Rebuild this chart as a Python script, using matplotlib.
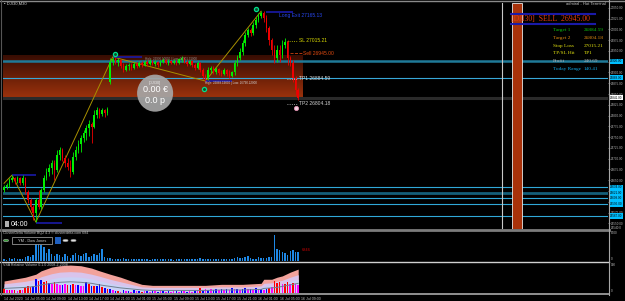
import matplotlib
matplotlib.use("Agg")
import matplotlib.pyplot as plt
import matplotlib.transforms as mtrans
from matplotlib.lines import Line2D
from matplotlib.patches import Ellipse, Rectangle, Circle
import numpy as np

# ---------------- data ----------------
opens = [26627,26634,26639,26650,26655,26648,26655,26643,26655,26623,
         26604,26588,26574,26604,26588,26627,26655,26669,26678,26690,
         26674,26708,26720,26701,26690,26681,26669,26704,26720,26734,
         26748,26759,26771,26780,26773,26801,26813,26804,26813,26806,
         26878,26924,26931,26924,26929,26915,26906,26915,26917,26910,
         26920,26915,26922,26917,26924,26920,26926,26920,26924,26917,
         26924,26929,26922,26926,26922,26926,26922,26929,26933,26924,
         26920,26926,26917,26910,26922,26906,26892,26887,26906,26910,
         26901,26908,26899,26896,26906,26896,26892,26901,26922,26933,
         26947,26968,26987,26998,26991,27010,27022,27031,27038,27026,
         27003,26975,26952,26933,26952,26940,26964,26971,26933,26922,
         26887,26859]
closes = [26634,26639,26650,26655,26648,26655,26643,26655,26623,26604,
          26588,26574,26604,26588,26627,26655,26669,26678,26690,26674,
          26708,26720,26701,26690,26681,26669,26704,26720,26734,26748,
          26759,26771,26780,26773,26801,26813,26804,26813,26806,26815,
          26924,26931,26924,26929,26915,26906,26915,26917,26910,26920,
          26915,26922,26917,26924,26920,26926,26920,26924,26917,26924,
          26929,26922,26926,26922,26926,26922,26931,26933,26924,26920,
          26926,26917,26910,26922,26906,26892,26885,26906,26910,26901,
          26908,26899,26896,26906,26896,26892,26901,26922,26933,26947,
          26968,26987,26998,26991,27010,27022,27031,27038,27026,27003,
          26975,26952,26933,26952,26940,26964,26971,26933,26922,26887,
          26859,26841]
highs = [26639,26643,26655,26662,26657,26660,26657,26662,26657,26627,
         26609,26592,26609,26627,26632,26662,26678,26688,26697,26697,
         26720,26727,26725,26708,26701,26697,26715,26729,26743,26755,
         26766,26778,26790,26785,26813,26820,26817,26817,26815,26820,
         26933,26936,26936,26933,26931,26922,26920,26922,26922,26924,
         26924,26926,26926,26929,26929,26931,26929,26929,26926,26929,
         26933,26931,26931,26929,26931,26929,26933,26938,26936,26929,
         26929,26929,26922,26926,26924,26910,26896,26913,26915,26915,
         26913,26910,26906,26910,26908,26906,26903,26929,26940,26957,
         26975,26994,27003,27003,27017,27029,27038,27042,27042,27033,
         27008,26980,26964,26964,26964,26975,26980,26975,26938,26929,
         26892,26864]
lows = [26623,26630,26634,26646,26641,26643,26639,26639,26618,26597,
        26581,26558,26553,26583,26583,26623,26650,26660,26664,26650,
        26669,26697,26694,26681,26674,26657,26664,26697,26713,26715,
        26739,26743,26752,26736,26771,26794,26794,26799,26797,26801,
        26873,26917,26920,26915,26910,26901,26903,26906,26906,26908,
        26910,26913,26913,26915,26915,26917,26917,26915,26913,26915,
        26922,26920,26917,26920,26920,26917,26920,26924,26922,26915,
        26917,26913,26906,26908,26901,26885,26880,26882,26899,26896,
        26896,26894,26892,26894,26892,26887,26889,26894,26915,26929,
        26940,26961,26982,26984,26987,27003,27017,27026,27017,26994,
        26964,26940,26922,26924,26924,26933,26957,26917,26915,26878,
        26848,26836]

volume = [580,300,870,580,870,450,580,580,1160,1450,
          1160,1740,5200,6400,4640,4060,2320,3480,2030,1450,
          2030,1740,1160,2030,1450,870,1740,2320,1740,1450,
          2030,2320,1160,1450,2030,1740,2320,3480,1160,870,
          870,580,450,700,580,870,520,640,450,600,
          520,700,450,580,640,400,520,700,450,600,
          520,450,640,580,400,600,520,450,700,580,
          520,640,450,600,870,700,580,640,520,580,
          700,520,600,640,580,700,640,780,1160,720,
          870,1000,1450,870,580,450,1160,720,870,870,
          1160,1160,7250,3480,3190,2610,2320,1740,2900,3190,
          2610,2610]

vsa_vol = [40,30,35,30,35,25,30,30,60,70,
           65,70,140,120,130,110,120,100,90,110,
           90,85,80,90,85,80,95,80,85,75,
           70,110,90,70,75,70,90,60,50,45,
           40,30,20,25,15,30,20,25,15,30,
           20,20,15,25,20,15,30,20,15,25,
           20,15,20,15,25,20,15,20,25,15,
           20,15,25,20,50,30,40,35,40,30,
           45,35,40,30,45,35,50,40,45,35,
           40,55,45,40,35,50,45,40,30,40,
           50,60,125,100,110,90,95,110,95,100,
           90,80]
vsa_class = ("rmrmrmrmrr" "rbbrbrrbmr" "mmbmrbrmbm" "mbrbrbbrbr" "bmbrmbmbmb"
             "mbrmbmbmbm" "bmbmmbmbmb" "mmbmrbmbmb" "bmbmbmbmbm" "bbmbmbmbmb"
             "rmrrrmrrmr" "mm")

band_idx = [0, 8, 12, 14, 18, 21, 25, 29, 33, 36, 40, 44, 48, 52, 56, 64, 76, 82, 90, 97, 98, 101, 103, 105, 108, 111]
band_pink = [123, 160, 190, 223, 260, 273, 280, 273, 250, 223, 190, 160, 123, 90, 80, 80, 80, 90, 90, 100, 140, 140, 160, 173, 210, 240]
band_lav = [95, 120, 140, 165, 195, 210, 215, 210, 190, 170, 140, 115, 90, 65, 60, 60, 60, 65, 65, 75, 100, 105, 120, 130, 160, 185]
band_blue = [70, 85, 100, 120, 145, 160, 165, 160, 145, 125, 100, 80, 65, 45, 40, 40, 40, 45, 45, 55, 70, 75, 85, 95, 120, 140]
band_gray = [50, 60, 70, 85, 100, 110, 115, 110, 100, 85, 70, 55, 45, 35, 30, 30, 30, 35, 35, 40, 50, 55, 60, 70, 85, 100]

zz_idx = [0, 3, 12, 41, 76, 97]
zz_price = [26643, 26662, 26553, 26936, 26880, 27042]

seg_start = [3, 12, 41, 76, 99]
seg_end = [12, 22, 52, 86, 109]
seg_price = [26662, 26550, 26936, 26880, 27041]

zone_lo, zone_hi = 26838, 26938

time_labels = ["14 Jul 2020", "14 Jul 05:00", "14 Jul 09:00", "14 Jul 13:00", "14 Jul 17:00",
               "14 Jul 21:00", "15 Jul 01:00", "15 Jul 05:00", "15 Jul 09:00", "15 Jul 13:00",
               "15 Jul 17:00", "15 Jul 21:00", "16 Jul 01:00", "16 Jul 05:00", "16 Jul 09:00"]

# horizontal levels: price, color, width, tag colour
levels = [(26926, '#1F7A98', 1.8, '#00BFFF'),
          (26888, '#38A8D8', 0.8, '#00BFFF'),
          (26841, '#2A2A2A', 2.2, '#FFFFFF'),
          (26634, '#30A8D8', 0.8, '#00BFFF'),
          (26621, '#145E78', 2.0, '#00BFFF'),
          (26609, '#30A8D8', 0.8, '#00BFFF'),
          (26595, '#30A8D8', 0.8, '#00BFFF'),
          (26567, '#30A8D8', 0.8, '#00BFFF')]

# ---------------- figure ----------------
W, H = 625, 301
fig = plt.figure(figsize=(W / 100, H / 100), dpi=100, facecolor='black')


def fx(px):
    return px / W


def fy(py):
    return 1 - py / H


XL = (-0.4, 227.9)
ax = fig.add_axes([fx(3), fy(229), fx(608) - fx(3), fy(3) - fy(229)], facecolor='black')
axv = fig.add_axes([fx(3), fy(261), fx(608) - fx(3), fy(231) - fy(261)], facecolor='black')
axs = fig.add_axes([fx(3), fy(293.5), fx(608) - fx(3), fy(263) - fy(293.5)], facecolor='black')
for a in (ax, axv, axs):
    a.set_xlim(*XL)
    for s in a.spines.values():
        s.set_visible(False)
    a.set_xticks([])
    a.set_yticks([])

idx = np.arange(len(closes))
O = np.array(opens); C = np.array(closes); Hh = np.array(highs); L = np.array(lows)

# ---- main chart ----
ax.set_ylim(26537, 27061)
ax.yaxis.tick_right()
level_prices = np.array([lv[0] for lv in levels])
yt_all = np.arange(26550, 27061, 25)
ax.set_yticks(yt_all)
ax.set_yticklabels([("" if np.min(np.abs(level_prices - v)) < 7 else f"{v:.2f}") for v in yt_all])
ax.tick_params(axis='y', colors='#B8B8B8', labelsize=2.2, length=1.5, width=0.4, pad=0.8)
for lab in ax.get_yticklabels():
    lab.set_family('Liberation Sans')

# orange zone gradient
g = np.linspace(0, 1, 80)[:, None]
top_c = np.array([0.22, 0.05, 0.01]); bot_c = np.array([0.62, 0.20, 0.05])
img = (top_c[None, :] + (bot_c - top_c)[None, :] * g)[:, None, :]
ax.imshow(img, extent=[XL[0], 112.5, zone_lo, zone_hi], aspect='auto', origin='upper', zorder=1,
          interpolation='bilinear')
ax.add_patch(Rectangle((XL[0], zone_lo), 112.5 - XL[0], 6, facecolor='#B84A22', edgecolor='none', zorder=1.2))

tr_tag = mtrans.blended_transform_factory(ax.transAxes, ax.transData)
for p, c, w, tag in levels:
    ax.axhline(p, color=c, lw=w, zorder=2)
    ax.text(1.0035, p, f"{p:.2f}", transform=tr_tag, fontsize=2.2, color='black', va='center', ha='left',
            family='Liberation Sans',
            bbox=dict(boxstyle='square,pad=0.2', fc=tag, ec='none'), zorder=10, clip_on=False)

# zigzag and swing segments
ax.plot(zz_idx, zz_price, color='#A89000', lw=0.7, zorder=3)
ax.hlines(seg_price, seg_start, seg_end, colors='#1A1AA8', lw=1.2, zorder=3)

# candles
col = np.where(C >= O, '#00F000', '#F00000')
ax.vlines(idx, L, Hh, colors=col, lw=0.6, zorder=4)
body = np.maximum(np.abs(C - O), 1.5)
ax.bar(idx, body, bottom=np.minimum(O, C), width=0.55, color=col, linewidth=0, zorder=5)

# vertical markers on the right
ax.axvline(187.9, color='#C8C8C8', lw=0.8, zorder=2)
ax.axvspan(191.8, 195.4, facecolor='#A8320A', edgecolor='#E8E8E8', lw=0.6, zorder=2)

# zigzag point markers
ax.scatter([42, 95, 75.5], [26943, 27046, 26861], s=9, facecolor='#0A5030', edgecolor='#00E08A',
           lw=0.9, zorder=7)
ax.scatter([110], [26817], s=9, facecolor='#F0D0E0', edgecolor='#E090B0', lw=0.6, zorder=7)

# level labels near last bar
ax.hlines([26973, 26885, 26827], 106.8, 110.9, colors=['#D0D000', '#D0D0D0', '#C0C0C0'],
          lw=0.6, linestyles=':', zorder=6)
ax.hlines([26945], 107.9, 112.5, colors=['#D04010'], lw=0.6, linestyles='--', zorder=6)
ax.text(103.8, 27033, "Long Exit 27165.13", color='#2848F0', fontsize=3.6, va='center', family='Liberation Sans', zorder=8)
ax.text(111.3, 26973, "SL 27015.21", color='#D8D800', fontsize=3.6, va='center', family='Liberation Sans', zorder=8)
ax.text(112.8, 26945, "Sell 26945.00", color='#E04A10', fontsize=3.6, va='center', family='Liberation Sans', zorder=8)
ax.text(111.3, 26885, "TP1 26884.59", color='#D8D8D8', fontsize=3.6, va='center', family='Liberation Sans', zorder=8)
ax.text(111.3, 26827, "TP2 26804.18", color='#D0D0D0', fontsize=3.6, va='center', family='Liberation Sans', zorder=8)
ax.text(76, 26875, "High: 26889.19000 | Low: 26790.22000", color='#D0D0D0', fontsize=2.2, va='center',
        family='Liberation Sans', zorder=8)
ax.text(53, 26931, "High: 26936.10000 | Low: 26901.31000", color='#909090', fontsize=2.2, va='center',
        family='Liberation Sans', zorder=8)

# profit bubble
ax.add_patch(Ellipse((57, 26852), 13.6, 86, facecolor='#A6A6A6', edgecolor='none', alpha=0.92, zorder=9))
ax.text(57, 26876, "[DJI30]", color='#E8E8E8', fontsize=2.8, ha='center', va='center', zorder=10,
        family='Liberation Sans')
ax.text(57, 26861, "0.00 €", color='white', fontsize=6.5, ha='center', va='center', zorder=10,
        family='Liberation Sans')
ax.text(57, 26834, "0.0 p", color='white', fontsize=6.5, ha='center', va='center', zorder=10,
        family='Liberation Sans')

# ---- volume subwindow ----
axv.set_ylim(0, 8500)
axv.bar(idx, volume, width=0.55, color='#1E88E5', linewidth=0)
axv.text(112.5, 3190, "6846", color='#D00000', fontsize=2.8, va='center', family='Liberation Sans')

# ---- VSA subwindow ----
axs.set_ylim(0, 300)
axs.fill_between(band_idx, 0, band_pink, color='#F2A29C', lw=0)
axs.fill_between(band_idx, 0, band_lav, color='#D9C4EC', lw=0)
axs.fill_between(band_idx, 0, band_blue, color='#C9D2F6', lw=0)
axs.plot(band_idx, band_gray, color='#708090', lw=0.7)
cmap = {'r': '#FF0000', 'b': '#0000FF', 'm': '#FF00FF'}
axs.bar(idx, vsa_vol, width=0.6, color=[cmap[k] for k in vsa_class], linewidth=0)
for k, lab in enumerate(time_labels):
    axs.text(8 * k, -0.1, lab, transform=mtrans.blended_transform_factory(axs.transData, axs.transAxes),
             fontsize=2.6, color='#C0C0C0', ha='left', va='top', family='Liberation Sans', clip_on=False)

# ---- frame lines ----
def hline_px(y, x0, x1, color, lw):
    fig.add_artist(Line2D([fx(x0), fx(x1)], [fy(y), fy(y)], color=color, lw=lw))


def vline_px(x, y0, y1, color, lw):
    fig.add_artist(Line2D([fx(x), fx(x)], [fy(y0), fy(y1)], color=color, lw=lw))


hline_px(0.6, 0, 625, '#8A8A8A', 1.0)
hline_px(229.8, 0, 608.5, '#7C7C7C', 2.0)
hline_px(261.5, 0, 608.5, '#D0D0D0', 1.0)
hline_px(294.2, 0, 608.5, '#909090', 1.4)
vline_px(608.5, 0, 294.5, '#A8A8A8', 0.8)
vline_px(0.5, 0, 294.5, '#555555', 0.8)

# ---- texts (screen overlay) ----
fig.text(fx(4), fy(3.5), "\u25AA DJI30,M30", fontsize=3, color='#D0D0D0', va='center', family='Liberation Sans')
fig.text(fx(606), fy(4), "admiral - Hot Terminal", fontsize=3, color='#C0C0C0', va='center', ha='right',
         family='Liberation Sans')

hline_px(13.5, 511, 595, '#1A1AA8', 1.5)
hline_px(24.2, 511, 595, '#1A1AA8', 1.5)
fig.text(fx(511), fy(19), "[DJI30]  SELL  26945.00", fontsize=5.6, color='#E83A10', va='center',
         family='Liberation Serif')
rows = [("Target 1", "26884.59", '#10C010'),
        ("Target 2", "26804.18", '#E08A10'),
        ("Stop Loss", "27015.21", '#E0E010'),
        ("TP/SL Hit", "TP1", '#E0E010'),
        ("Profit", "240.69", '#B0B0B0'),
        ("Today Range", "140.41", '#10A8E8')]
for k, (a, b, c) in enumerate(rows):
    yy = 30 + 7.8 * k
    fig.text(fx(553), fy(yy), a, fontsize=3.8, color=c, va='center', family='Liberation Serif')
    fig.text(fx(584), fy(yy), b, fontsize=3.8, color=c, va='center', family='Liberation Serif')

fig.add_artist(Rectangle((fx(4.5), fy(227)), fx(4), fy(221) - fy(227), facecolor='#B0B0B0', edgecolor='none'))
fig.text(fx(11), fy(224), "04:00", fontsize=5, color='white', va='center', family='Liberation Sans')

fig.text(fx(3), fy(233), "ClusterDelta Volume BQ2 4.3 \u00a9 clusterdelta.com 684", fontsize=2.6,
         color='#C0C0C0', va='center', family='Liberation Sans')
fig.add_artist(Circle((fx(6), fy(240.5)), 2.6 / W, facecolor='#3A9A3A', edgecolor='#B0B0B0', lw=0.4,
                      transform=fig.transFigure))
fig.add_artist(Rectangle((fx(12), fy(244)), fx(40), fy(237) - fy(244), facecolor='black', edgecolor='#B0B0B0',
                         lw=0.5))
fig.text(fx(32), fy(240.5), "YM - Dow Jones", fontsize=2.8, color='#D0D0D0', va='center', ha='center',
         family='Liberation Sans')
fig.add_artist(Rectangle((fx(55), fy(244)), fx(6), fy(237) - fy(244), facecolor='#2060C0', edgecolor='none'))
for cx in (65.5, 73.5):
    fig.add_artist(Circle((fx(cx), fy(240.5)), 2.6 / W, facecolor='#E0E0E0', edgecolor='#808080', lw=0.4,
                          transform=fig.transFigure))

fig.text(fx(3), fy(264.5), "VSA Relative Volume 0.1.0 2008-2-2008", fontsize=2.6, color='#C0C0C0',
         va='center', family='Liberation Sans')

for yy, t in [(228, "26540.0"), (233, "8500"), (258.5, "0"), (265, "300"), (291.5, "0")]:
    fig.text(fx(610.5), fy(yy), t, fontsize=2.2, color='#C0C0C0', va='center', family='Liberation Sans')

fig.savefig("out.png", dpi=100, facecolor='black')
